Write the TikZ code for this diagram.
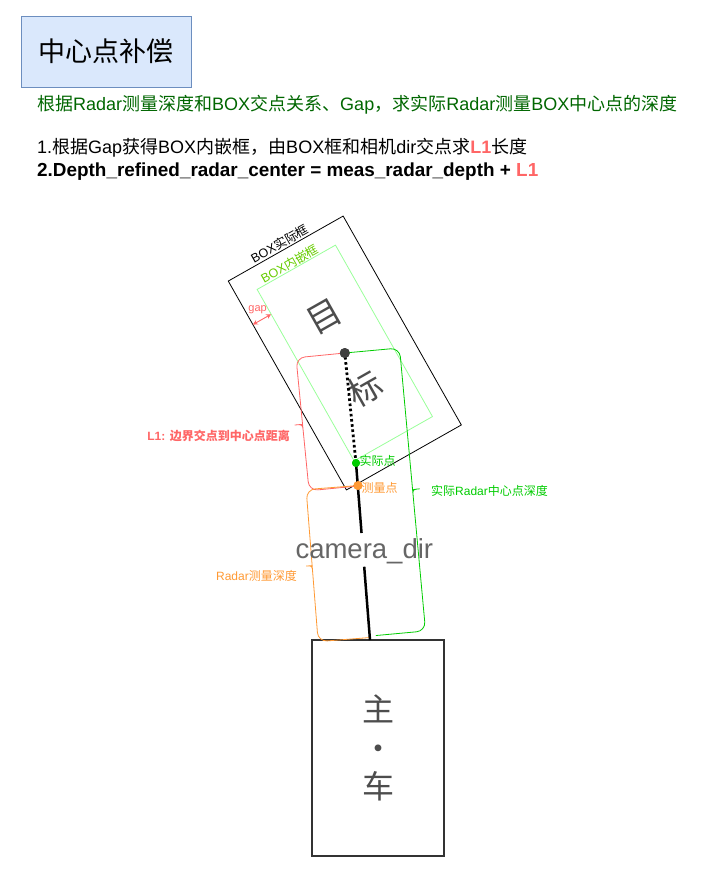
\documentclass[tikz,border=0pt]{standalone}
\usepackage{fontspec}
\setmainfont{Liberation Sans}
\newfontfamily\cjk{Noto Sans CJK SC}
\usetikzlibrary{arrows.meta,calc}
\definecolor{lred}{HTML}{FF6666}
\definecolor{lgreen}{HTML}{00CC00}
\definecolor{lorange}{HTML}{FF9933}
\definecolor{dgreen}{HTML}{006600}
\definecolor{igreen}{HTML}{99FF99}
\definecolor{tgreen}{HTML}{66CC00}
\definecolor{tfill}{HTML}{DAE8FC}
\definecolor{tdraw}{HTML}{6C8EBF}
\definecolor{dgray}{HTML}{4D4D4D}
\definecolor{mgray}{HTML}{666666}
\newcommand{\zh}[1]{{\cjk #1}}
\begin{document}
\begin{tikzpicture}[x=1pt,y=-1pt,
  txt/.style={inner sep=0pt},
  small/.style={inner sep=0pt,font=\fontsize{12}{14}\selectfont},
  bigtxt/.style={inner sep=0pt,font=\fontsize{18}{22}\selectfont},
  bracestyle/.style={line width=0.8pt,rounded corners=9pt},
  camline/.style={line width=2.5pt,black},
  dotline/.style={line width=2.8pt,black,dash pattern=on 2.6pt off 2.6pt},
  pt/.style={circle,inner sep=0pt,draw=none}]
\useasboundingbox (0,0) rectangle (713,873);

% title
\node[draw=tdraw,fill=tfill,line width=0.8pt,minimum width=170pt,minimum height=71pt,
  font=\fontsize{27}{30}\selectfont\cjk] (title) at (106,51.5) {中心点补偿};

% description
\node[bigtxt,text=dgreen,anchor=west] (desc) at (37,105)
  {\zh{根据}Radar\zh{测量深度和}BOX\zh{交点关系、}Gap\zh{，求实际}Radar\zh{测量}BOX\zh{中心点的深度}};
\node[bigtxt,anchor=west] (step1) at (37,148)
  {1.\zh{根据}Gap\zh{获得}BOX\zh{内嵌框，由}BOX\zh{框和相机}dir\zh{交点求}{\bfseries\color{lred}L1}\zh{长度}};
\node[inner sep=0pt,anchor=west,font=\fontsize{18.9}{22}\selectfont\bfseries] (step2) at (37,172)
  {2.Depth\_refined\_radar\_center = meas\_radar\_depth + {\color{lred}L1}};

% boxes
\coordinate (bc) at (344.8,353);
\node[draw=black,line width=0.8pt,rotate=29.5,minimum width=132pt,minimum height=240pt] (outer) at (bc) {};
\node[draw=igreen,line width=0.8pt,rotate=29.5,minimum width=90pt,minimum height=197pt] (inner) at (bc) {};
\begin{scope}[shift={(bc)},rotate=29.5]
  \node[anchor=south,rotate=29.5,inner sep=1pt,font=\fontsize{12.5}{14}\selectfont] (outerlbl) at (-3,-120) {BOX\zh{实际框}};
  \node[anchor=south,rotate=29.5,text=tgreen,inner sep=0.5pt,font=\fontsize{12.5}{14}\selectfont] (innerlbl) at (-4,-98.5) {BOX\zh{内嵌框}};
  \node[txt,rotate=29.5,text=dgray,font=\fontsize{34}{40}\selectfont\cjk] (mu) at (0,-41.5) {目};
  \node[txt,rotate=29.5,text=dgray,font=\fontsize{34}{40}\selectfont\cjk] (biao) at (0,41.5) {标};
  \coordinate (g1) at (-66,-70);
  \coordinate (g2) at (-45,-70);
\end{scope}
\draw[lred,line width=0.9pt,{Stealth[length=5pt,width=5pt]}-{Stealth[length=5pt,width=5pt]}] (g1) -- (g2);
\node[txt,text=lred,font=\fontsize{11}{13}\selectfont] (gaplbl) at (257.6,309.5) {gap};

% host car
\node[draw=black!80,line width=1.6pt,minimum width=132pt,minimum height=216pt,
  align=center,text=dgray,font=\fontsize{32}{38.5}\selectfont\cjk] (car) at (378,748) {主\\•\\车};

% points
\node[pt,fill=black!75,minimum size=10pt] (cdot) at (bc) {};
\node[pt,fill=lgreen,minimum size=8pt] (gdot) at (356,463) {};
\node[pt,fill=lorange,minimum size=9pt] (odot) at (358,485.5) {};
\coordinate (carTop) at (370,640);

% braces
\begin{scope}[shift={(cdot.center)},rotate=5.6]
  \draw[lred,bracestyle] (0,0) -- (-49,0) -- (-49,59.8) [sharp corners]
    .. controls (-49,66.8) .. (-57,66.8) .. controls (-49,66.8) .. (-49,73.8)
    [rounded corners=9pt] -- (-49,133.6) -- (0,133.6);
\end{scope}
\begin{scope}[shift={(cdot.center)},rotate=5.25]
  \draw[lgreen,bracestyle] (0,0) -- (55,0) -- (55,135.1) [sharp corners]
    .. controls (55,142.1) .. (62,142.1) .. controls (55,142.1) .. (55,149.1)
    [rounded corners=9pt] -- (55,284.2) -- (5,284.2);
\end{scope}
\begin{scope}[shift={(odot.center)},rotate=4.5]
  \draw[lorange,bracestyle] (0,0) -- (-52,0) -- (-52,69.25) [sharp corners]
    .. controls (-52,76.25) .. (-58,76.25) .. controls (-52,76.25) .. (-52,83.25)
    [rounded corners=9pt] -- (-52,152.5) -- (0,152.5);
\end{scope}

% camera direction line
\coordinate (c2) at ($(carTop)!0.414!(gdot.center)$);
\coordinate (c1) at ($(carTop)!0.6045!(gdot.center)$);
\draw[camline] (carTop) -- (c2);
\draw[camline] (c1) -- (gdot.center);
\draw[dotline] (gdot.center) -- (cdot.center);
\node[pt,fill=black!75,minimum size=10pt] at (cdot) {};
\node[pt,fill=lgreen,minimum size=8pt] at (gdot) {};
\node[pt,fill=lorange,minimum size=9pt] at (odot) {};
\node[txt,text=mgray,font=\fontsize{27.5}{30}\selectfont] (camlbl) at (364.3,551) {camera\_dir};

% labels
\node[small,text=lgreen,anchor=west] (gdotlbl) at (359.5,461) {\zh{实际点}};
\node[small,text=lorange,anchor=west] (odotlbl) at (361.5,488) {\zh{测量点}};
\node[small,text=lred,anchor=east,font=\fontsize{12}{14}\selectfont\bfseries] (l1lbl) at (290,436)
  {L1: \zh{边界交点到中心点距离}};
\node[small,text=lgreen,anchor=west] (reallbl) at (431,491) {\zh{实际}Radar\zh{中心点深度}};
\node[small,text=lorange,anchor=east] (measlbl) at (297,575.5) {Radar\zh{测量深度}};
\end{tikzpicture}
\end{document}
